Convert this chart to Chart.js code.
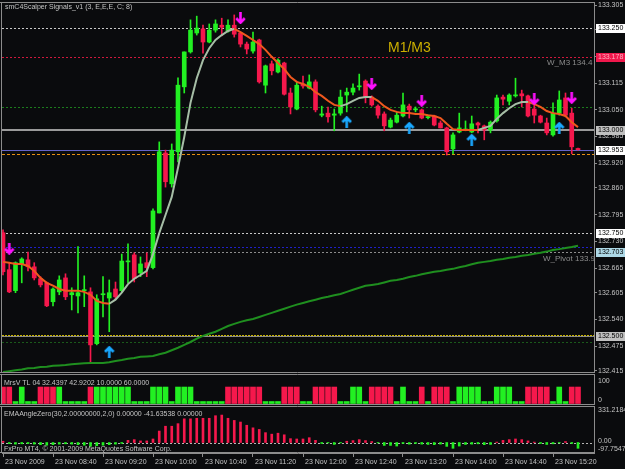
<!DOCTYPE html>
<html>
<head>
<meta charset="utf-8">
<script src="https://cdn.jsdelivr.net/npm/chart.js@4.4.0/dist/chart.umd.min.js"></script>
<style>
html,body{margin:0;padding:0;background:#0a0b0d;overflow:hidden}
#wrap{position:relative;width:625px;height:469px}
canvas{position:absolute;left:0;display:block}
</style>
</head>
<body>
<div id="wrap">
  <canvas id="main" width="625" height="373" style="top:0"></canvas>
  <canvas id="mrsv" width="625" height="31" style="top:374px"></canvas>
  <canvas id="ema" width="625" height="63" style="top:406px"></canvas>
</div>
<script>
// 5-minute candles, 23 Nov 2009 08:00 .. 15:40
const opens = [132.751,132.661,132.610,132.675,132.685,132.668,132.639,132.629,132.583,132.607,
  132.641,132.600,132.597,132.610,132.607,132.481,132.600,132.592,132.614,132.610,
  132.680,132.697,132.653,132.678,132.666,132.799,132.945,132.870,132.948,133.106,
  133.191,133.237,133.247,133.215,133.244,133.256,133.242,133.256,133.237,133.210,
  133.193,133.220,133.110,133.162,133.142,133.164,133.091,133.052,133.113,133.103,
  133.118,133.037,133.042,133.037,133.042,133.086,133.093,133.106,133.120,133.081,
  133.059,133.040,133.008,133.020,133.035,133.059,133.050,133.050,133.031,133.035,
  133.018,133.006,132.955,132.996,133.001,132.996,133.018,133.011,133.001,133.023,
  133.081,133.071,133.084,133.089,133.084,133.052,133.035,133.018,132.989,133.042,
  133.079,133.042,132.956];
const highs = [132.758,132.678,132.680,132.690,132.704,132.678,132.644,132.631,132.617,132.646,
  132.651,132.617,132.717,132.646,132.617,132.600,132.644,132.636,132.631,132.699,
  132.724,132.702,132.692,132.702,132.809,132.972,132.952,132.967,133.128,133.191,
  133.269,133.278,133.256,133.259,133.269,133.273,133.269,133.281,133.239,133.215,
  133.239,133.222,133.159,133.169,133.174,133.166,133.103,133.118,133.132,133.135,
  133.123,133.059,133.057,133.052,133.098,133.103,133.113,133.137,133.123,133.084,
  133.062,133.045,133.030,133.045,133.091,133.064,133.057,133.052,133.037,133.037,
  133.023,133.008,132.994,133.042,133.023,133.035,133.020,133.013,133.023,133.086,
  133.086,133.089,133.127,133.098,133.086,133.062,133.037,133.030,133.067,133.096,
  133.091,133.054,132.957];
const lows = [132.648,132.605,132.605,132.629,132.658,132.636,132.619,132.571,132.573,132.600,
  132.588,132.563,132.556,132.571,132.434,132.478,132.546,132.510,132.588,132.605,
  132.629,132.631,132.644,132.644,132.663,132.799,132.862,132.862,132.923,133.091,
  133.188,133.232,133.188,133.213,133.239,133.230,133.239,133.227,133.203,133.186,
  133.188,133.115,133.091,133.135,133.140,133.086,133.040,133.050,133.103,133.101,
  133.045,133.033,133.020,132.999,133.037,133.045,133.086,133.098,133.067,133.059,
  133.030,132.999,133.006,133.018,133.033,133.030,133.045,133.028,133.028,133.011,
  133.006,132.940,132.943,132.994,132.999,132.994,132.994,132.977,132.994,133.020,
  133.062,133.062,133.081,133.057,133.033,133.018,133.018,132.989,132.986,133.037,
  133.033,132.943,132.952];
const closes = [132.656,132.607,132.678,132.687,132.668,132.641,132.624,132.573,132.614,132.636,
  132.595,132.605,132.605,132.612,132.478,132.590,132.602,132.605,132.595,132.682,
  132.682,132.639,132.675,132.666,132.804,132.948,132.875,132.952,133.110,133.191,
  133.244,133.249,133.215,133.244,133.259,133.251,133.256,133.234,133.210,133.198,
  133.215,133.118,133.157,133.145,133.171,133.088,133.057,133.110,133.108,133.118,
  133.050,133.040,133.033,133.040,133.081,133.093,133.103,133.108,133.081,133.062,
  133.037,133.011,133.025,133.037,133.062,133.050,133.052,133.030,133.033,133.013,
  133.006,132.948,132.989,133.006,133.003,133.016,133.013,133.001,133.020,133.079,
  133.076,133.086,133.086,133.084,133.035,133.037,133.020,132.994,133.042,133.074,
  133.037,132.960,132.953];

// scalper signal line (fast) and the slow green average
const fastMa = [132.680,132.678,132.675,132.675,132.670,132.658,132.641,132.629,132.622,132.614,
  132.610,132.610,132.610,132.607,132.600,132.585,132.580,132.578,132.588,132.605,
  132.626,132.639,132.648,132.658,132.699,132.750,132.794,132.838,132.909,132.984,
  133.067,133.127,133.171,133.200,133.220,133.232,133.242,133.247,133.239,133.230,
  133.220,133.210,133.196,133.179,133.164,133.149,133.130,133.118,133.113,133.106,
  133.093,133.084,133.072,133.062,133.059,133.064,133.072,133.079,133.081,133.081,
  133.072,133.059,133.050,133.045,133.042,133.042,133.040,133.040,133.037,133.035,
  133.030,133.016,133.003,133.001,133.001,133.001,133.001,133.006,133.011,133.028,
  133.042,133.054,133.064,133.069,133.069,133.064,133.057,133.047,133.042,133.040,
  133.035,133.020,133.008];
const slowMa = [132.412,132.414,132.416,132.418,132.421,132.422,132.424,132.425,132.427,132.428,
  132.429,132.431,132.432,132.433,132.434,132.434,132.434,132.436,132.439,132.441,
  132.444,132.446,132.449,132.450,132.451,132.455,132.459,132.465,132.471,132.478,
  132.485,132.493,132.500,132.505,132.510,132.517,132.524,132.529,132.534,132.538,
  132.541,132.546,132.551,132.556,132.561,132.566,132.571,132.576,132.580,132.584,
  132.588,132.592,132.595,132.599,132.602,132.607,132.612,132.617,132.622,132.624,
  132.626,132.630,132.634,132.636,132.639,132.643,132.646,132.650,132.653,132.656,
  132.658,132.661,132.663,132.667,132.670,132.674,132.678,132.680,132.682,132.685,
  132.687,132.690,132.692,132.695,132.697,132.700,132.702,132.705,132.709,132.711,
  132.714,132.716,132.719];

// signal arrows: candle index and price
const sellIdx = [1, 38, 59, 67, 85, 91];
const sellPrice = [132.712, 133.273, 133.113, 133.072, 133.076, 133.079];
const buyIdx = [17, 55, 65, 75, 89];
const buyPrice = [132.461, 133.020, 133.006, 132.977, 133.006];

// horizontal levels and the boxed prices on the axis
const levelPrices = [133.250, 133.178, 133.057, 133.000, 132.953, 132.942, 132.750, 132.715, 132.703, 132.503, 132.500, 132.486];
const boxPrices = [133.250, 133.178, 133.000, 132.953, 132.750, 132.703, 132.500];
const priceTicks = [133.305, 133.245, 133.180, 133.115, 133.050, 132.985, 132.920, 132.860, 132.795, 132.730, 132.665, 132.605, 132.540, 132.475, 132.415];

// MrsV TL panel
const mrsvRed = [100,100,0,0,0,0,100,100,100,0, 0,0,0,0,100,0,0,0,0,0, 0,0,0,0,0,0,0,0,0,0,
  0,0,0,0,0,0,100,100,100,100, 100,100,0,0,0,100,100,100,0,0, 100,100,100,100,0,0,0,0,0,100,
  100,100,100,0,0,0,0,100,0,100, 100,100,0,0,0,0,0,0,0,0, 0,0,0,0,100,100,100,100,0,0, 0,100,100];
const mrsvGreen = [0,0,12,100,12,12,0,0,0,100, 12,12,12,12,0,100,100,100,100,100, 100,12,12,12,100,100,100,12,100,100,
  100,12,12,12,12,12,0,0,0,0, 0,0,12,12,12,0,0,0,12,12, 0,0,0,0,12,12,100,100,12,0,
  0,0,0,12,100,12,12,0,12,0, 0,0,12,100,100,100,100,12,12,100, 100,100,12,12,0,0,0,0,12,100, 12,0,0];
const mrsvTicks = [100, 0];

// EMAAngleZero histogram
const emaAngle = [12,-10,-15,-12,-10,-15,-20,-25,-20,-15, -12,-15,-20,-25,-35,-30,-25,-20,-15,-8,
  20,27,15,15,33,107,152,152,176,221, 221,226,226,226,250,256,226,206,191,161,
  137,122,92,78,87,72,36,33,33,45, 20,-9,-4,-18,-4,12,18,27,18,9,
  -4,-27,-27,-33,-9,-15,-9,-15,-18,-20, -15,-36,-54,-33,-18,-15,-12,-20,-18,4,
  20,27,33,27,15,4,-9,-18,-12,-4, 9,-9,-54];
const emaTicks = [331.2184, 0, -97.7547];
const emaTickLabels = ['331.2184', '0.00', '-97.7547'];

const timeIdx = [0, 8, 16, 24, 32, 40, 48, 56, 64, 72, 80, 88];
const timeLabels = ['23 Nov 2009','23 Nov 08:40','23 Nov 09:20','23 Nov 10:00','23 Nov 10:40','23 Nov 11:20',
  '23 Nov 12:00','23 Nov 12:40','23 Nov 13:20','23 Nov 14:00','23 Nov 14:40','23 Nov 15:20'];

// ---- styles ----
const BG = '#0a0b0d', FRAME = '#8c8c8c', TXT = '#c4c4c4';
const BULL = '#22f022', BEAR = '#f5184c';
const UP_LINE = '#a6bea6', DOWN_LINE = '#f0581e';
const FONT = "'Liberation Sans', Arial, sans-serif";
const X_MIN = -0.16, X_MAX = 94.56;
const levelStyles = [
  ['#c8c8c8', [2,2], 1], ['#d0183c', [2,2], 1], ['#1c7c1c', [2,2], 1], ['#9a9a9a', [], 2],
  ['#6464c8', [], 1], ['#e89010', [3,2], 1], ['#c8c8c8', [2,2], 1], ['#2020c8', [2,2], 1],
  ['#8c8c8c', [2,2], 1], ['#c8b400', [2,1], 1], ['#8c8c8c', [], 1], ['#1a5a1a', [2,2], 1]
];
const boxStyles = [
  ['#ffffff', '#000'], ['#f0184c', '#ffb0c0'], ['#c0c0c0', '#000'], ['#ffffff', '#000'],
  ['#ffffff', '#000'], ['#add8e6', '#000'], ['#c0c0c0', '#000']
];

Chart.defaults.font.family = FONT;
Chart.defaults.font.size = 7;
Chart.defaults.animation = false;

function arrowImg(color, up){
  const c = document.createElement('canvas');
  c.width = 11; c.height = 12;
  const g = c.getContext('2d');
  g.strokeStyle = color; g.lineWidth = 2.6;
  g.beginPath();
  if (up) {
    g.moveTo(5.5, 1.5); g.lineTo(5.5, 12);
    g.moveTo(1.2, 6); g.lineTo(5.5, 1.5); g.lineTo(9.8, 6);
  } else {
    g.moveTo(5.5, 0); g.lineTo(5.5, 10.5);
    g.moveTo(1.2, 6); g.lineTo(5.5, 10.5); g.lineTo(9.8, 6);
  }
  g.stroke();
  return c;
}

function pts(arr){ return arr.map((v, i) => ({x: i, y: v})); }
const isBull = i => closes[i] >= opens[i];

// colour of the signal line follows its direction, flat keeps the last one
const fastCol = [];
let cur = DOWN_LINE;
for (let i = 0; i < fastMa.length - 1; i++) {
  const d = fastMa[i + 1] - fastMa[i];
  if (d > 0) cur = UP_LINE; else if (d < 0) cur = DOWN_LINE;
  fastCol.push(cur);
}

function xAxis(){
  return {type: 'linear', min: X_MIN, max: X_MAX, offset: false, display: false};
}
// fixed right axis width, no extra room for the edge labels
function fixedWidth(s){ s.width = 31; s.paddingTop = 0; s.paddingBottom = 0; }

function frame(ctx, a, top, bottom){
  ctx.save();
  ctx.strokeStyle = FRAME; ctx.lineWidth = 1;
  ctx.beginPath();
  ctx.moveTo(0, top + 0.5); ctx.lineTo(a.right + 1, top + 0.5);
  ctx.moveTo(0, bottom + 0.5); ctx.lineTo(a.right + 1, bottom + 0.5);
  ctx.moveTo(1.5, top); ctx.lineTo(1.5, bottom + 1);
  ctx.moveTo(a.right + 0.5, top); ctx.lineTo(a.right + 0.5, bottom + 1);
  ctx.stroke();
  ctx.restore();
}

const mainDeco = {
  id: 'mainDeco',
  beforeDraw(chart){
    const ctx = chart.ctx;
    ctx.save(); ctx.fillStyle = BG; ctx.fillRect(0, 0, chart.width, chart.height); ctx.restore();
  },
  beforeDatasetsDraw(chart){
    const ctx = chart.ctx, a = chart.chartArea, y = chart.scales.y;
    ctx.save();
    ctx.beginPath(); ctx.rect(a.left, a.top, a.right - a.left, a.bottom - a.top); ctx.clip();
    levelPrices.forEach((p, k) => {
      const [col, dash, w] = levelStyles[k];
      const py = Math.round(y.getPixelForValue(p)) + (w === 1 ? 0.5 : 0);
      ctx.strokeStyle = col; ctx.lineWidth = w; ctx.setLineDash(dash);
      ctx.beginPath(); ctx.moveTo(a.left, py); ctx.lineTo(a.right, py); ctx.stroke();
    });
    ctx.setLineDash([]);
    ctx.fillStyle = '#8c8c8c';
    ctx.font = '8px ' + FONT;
    ctx.textBaseline = 'middle'; ctx.textAlign = 'left';
    ctx.fillText('W_M3 134.4', 547, y.getPixelForValue(133.178) + 5.5);
    ctx.fillText('W_Pivot 133.9', 543, y.getPixelForValue(132.703) + 6);
    ctx.restore();
  },
  afterDraw(chart){
    const ctx = chart.ctx, a = chart.chartArea, y = chart.scales.y;
    frame(ctx, a, 2, 372);
    ctx.save();
    ctx.textBaseline = 'middle'; ctx.textAlign = 'left';
    ctx.font = '7px ' + FONT; ctx.fillStyle = TXT;
    ctx.fillText('smC4Scalper Signals_v1 (3, E,E,E, C; 8)', 5, 7);
    ctx.font = '14px ' + FONT; ctx.fillStyle = '#ccb000';
    ctx.fillText('M1/M3', 388, 48);
    ctx.font = '7px ' + FONT;
    boxPrices.forEach((p, k) => {
      const [bg, fg] = boxStyles[k];
      const py = Math.round(y.getPixelForValue(p));
      ctx.fillStyle = bg; ctx.fillRect(596, py - 4, 29, 9);
      ctx.fillStyle = fg; ctx.fillText(p.toFixed(3), 598, py + 0.5);
    });
    ctx.restore();
  }
};

new Chart(document.getElementById('main'), {
  type: 'bar',
  data: {
    datasets: [
      {type: 'scatter', data: sellIdx.map((x, k) => ({x, y: sellPrice[k]})), pointStyle: arrowImg('#ff10ff', false), order: -4},
      {type: 'scatter', data: buyIdx.map((x, k) => ({x, y: buyPrice[k]})), pointStyle: arrowImg('#1aa8ff', true), order: -3},
      {type: 'line', data: pts(fastMa), borderWidth: 2, pointRadius: 0,
        segment: {borderColor: c => fastCol[c.p0DataIndex]}, borderColor: DOWN_LINE, order: -2},
      {type: 'line', data: pts(slowMa), borderWidth: 2, pointRadius: 0, borderColor: '#1f8f1f', order: -1},
      {data: opens.map((o, i) => ({x: i, y: [o, closes[i]]})), grouped: false, barThickness: 4, minBarLength: 1,
        backgroundColor: c => isBull(c.dataIndex) ? BULL : BEAR, order: 0},
      {data: lows.map((l, i) => ({x: i, y: [l, highs[i]]})), grouped: false, barThickness: 1,
        backgroundColor: c => isBull(c.dataIndex) ? BULL : BEAR, order: 1}
    ]
  },
  options: {
    responsive: false,
    layout: {autoPadding: false, padding: {left: 2, top: 3, bottom: 1, right: 0}},
    plugins: {legend: {display: false}, tooltip: {enabled: false}},
    scales: {
      x: xAxis(),
      y: {
        type: 'linear', position: 'right', min: 132.412, max: 133.310,
        afterFit: fixedWidth,
        afterBuildTicks: s => { s.ticks = priceTicks.map(v => ({value: v})); },
        ticks: {callback: v => v.toFixed(3), color: TXT, padding: 1, font: {size: 7}},
        grid: {drawOnChartArea: false, color: FRAME, tickLength: 3},
        border: {display: false}
      }
    }
  },
  plugins: [mainDeco]
});

// ---- MrsV TL panel ----
new Chart(document.getElementById('mrsv'), {
  type: 'bar',
  data: {
    datasets: [
      {data: mrsvRed.map((v, i) => ({x: i, y: v || null})), backgroundColor: BEAR, barThickness: 5, grouped: false},
      {data: mrsvGreen.map((v, i) => ({x: i, y: v || null})), backgroundColor: BULL, barThickness: 5, grouped: false}
    ]
  },
  options: {
    responsive: false,
    layout: {autoPadding: false, padding: {left: 2, top: 2, bottom: 1, right: 0}},
    plugins: {legend: {display: false}, tooltip: {enabled: false}},
    scales: {
      x: xAxis(),
      y: {type: 'linear', position: 'right', min: -3, max: 167, afterFit: fixedWidth,
        ticks: {display: false}, grid: {display: false}, border: {display: false}}
    }
  },
  plugins: [{
    id: 'mrsvDeco',
    beforeDraw(chart){
      const ctx = chart.ctx;
      ctx.save(); ctx.fillStyle = BG; ctx.fillRect(0, 0, chart.width, chart.height); ctx.restore();
    },
    afterDraw(chart){
      const ctx = chart.ctx, a = chart.chartArea, y = chart.scales.y;
      frame(ctx, a, 0, 30);
      ctx.save();
      ctx.font = '7px ' + FONT; ctx.fillStyle = TXT; ctx.textAlign = 'left'; ctx.textBaseline = 'middle';
      ctx.fillText('MrsV TL 04 32.4397 42.9202 10.0000 60.0000', 4, 9);
      ctx.textBaseline = 'bottom';
      mrsvTicks.forEach(v => ctx.fillText(String(v), 598, y.getPixelForValue(v) + 0.5 - (v === 100 ? 3 : 0)));
      ctx.restore();
    }
  }]
});

// ---- EMAAngleZero panel with the time axis ----
new Chart(document.getElementById('ema'), {
  type: 'bar',
  data: {
    datasets: [
      {data: pts(emaAngle), barThickness: 2, grouped: false,
        backgroundColor: c => c.raw.y >= 0 ? BEAR : BULL}
    ]
  },
  options: {
    responsive: false,
    layout: {autoPadding: false, padding: {left: 2, top: 1, bottom: 0, right: 0}},
    plugins: {legend: {display: false}, tooltip: {enabled: false}},
    scales: {
      x: {
        type: 'linear', position: 'bottom', min: X_MIN, max: X_MAX, offset: false,
        afterFit: s => { s.height = 16; s.paddingLeft = 0; s.paddingRight = 0; },
        afterBuildTicks: s => { s.ticks = timeIdx.map(v => ({value: v})); },
        ticks: {callback: (v, i) => timeLabels[i], align: 'start', labelOffset: 2, maxRotation: 0,
          autoSkip: false, color: TXT, padding: 1, font: {size: 7}},
        grid: {drawOnChartArea: false, color: FRAME, tickLength: 4, offset: false},
        border: {display: true, color: FRAME}
      },
      y: {type: 'linear', position: 'right', min: -97.7547, max: 331.2184, afterFit: fixedWidth,
        ticks: {display: false}, grid: {display: false}, border: {display: false}}
    }
  },
  plugins: [{
    id: 'emaDeco',
    beforeDraw(chart){
      const ctx = chart.ctx;
      ctx.save(); ctx.fillStyle = BG; ctx.fillRect(0, 0, chart.width, chart.height); ctx.restore();
    },
    beforeDatasetsDraw(chart){
      const ctx = chart.ctx, a = chart.chartArea, y = chart.scales.y;
      const py = Math.round(y.getPixelForValue(0)) + 0.5;
      ctx.save();
      ctx.strokeStyle = '#b4b4b4'; ctx.lineWidth = 1; ctx.setLineDash([2, 2]);
      ctx.beginPath(); ctx.moveTo(a.left, py); ctx.lineTo(a.right, py); ctx.stroke();
      ctx.restore();
    },
    afterDraw(chart){
      const ctx = chart.ctx, a = chart.chartArea, y = chart.scales.y;
      frame(ctx, a, 0, Math.round(a.bottom) - 1);
      ctx.save();
      ctx.font = '7px ' + FONT; ctx.fillStyle = TXT; ctx.textAlign = 'left'; ctx.textBaseline = 'middle';
      ctx.fillText('EMAAngleZero(30,2.00000000,2,0) 0.00000 -41.63538 0.00000', 4, 8);
      ctx.fillText('FxPro MT4, \u00a9 2001-2009 MetaQuotes Software Corp.', 4, 43);
      emaTicks.forEach((v, k) => {
        ctx.textBaseline = k === 0 ? 'top' : (k === 1 ? 'middle' : 'bottom');
        ctx.fillText(emaTickLabels[k], 598, y.getPixelForValue(v) + (k === 1 ? -1 : 0));
      });
      ctx.restore();
    }
  }]
});
</script>
</body>
</html>
